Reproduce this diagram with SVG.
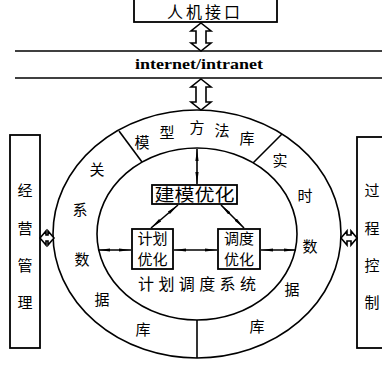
<svg xmlns="http://www.w3.org/2000/svg" width="382" height="371" viewBox="0 0 382 371">
<defs>
<style>
.ln{fill:none;stroke:#000;stroke-width:1.6}
.box{fill:#fff;stroke:#000;stroke-width:1.8}
.cn{font-family:"Noto Sans CJK SC","Noto Sans",sans-serif;fill:#000;text-anchor:middle}
.en{font-family:"Liberation Serif",serif;fill:#000;text-anchor:middle;font-weight:bold}
.ha{fill:#fff;stroke:#000;stroke-width:1.6;stroke-linejoin:miter}
</style>
<marker id="ah" viewBox="0 0 12 4" refX="12" refY="2" markerWidth="12" markerHeight="4" markerUnits="userSpaceOnUse" orient="auto-start-reverse">
<path d="M0,0.4 L12,2 L0,3.6 Z" fill="#000"/>
</marker>
</defs>
<rect width="382" height="371" fill="#fff"/>

<g id="hmi">
<rect class="box" x="134" y="-2" width="143" height="24"/>
<text class="cn" x="205" y="18" font-size="16" letter-spacing="3">人机接口</text>
</g>

<g id="network">
<line class="ln" x1="15" y1="51" x2="382" y2="51"/>
<line class="ln" x1="15" y1="78" x2="382" y2="78"/>
<text class="en" x="199" y="69" font-size="15" textLength="128" lengthAdjust="spacingAndGlyphs">internet/intranet</text>
</g>

<g id="rings">
<ellipse class="ln" cx="197" cy="234" rx="144" ry="124"/>
<ellipse class="ln" cx="197" cy="234" rx="100" ry="86"/>
<line class="ln" x1="119" y1="131" x2="142" y2="162"/>
<line class="ln" x1="282" y1="134" x2="253" y2="163"/>
<line class="ln" x1="197" y1="320" x2="197" y2="358"/>
</g>

<g id="model-lib" class="cn" font-size="15">
<text x="142" y="148">模</text>
<text x="167" y="138">型</text>
<text x="197" y="133">方</text>
<text x="222" y="136">法</text>
<text x="247" y="144">库</text>
</g>

<g id="rel-db" class="cn" font-size="15">
<text x="97" y="175">关</text>
<text x="80" y="215">系</text>
<text x="82" y="265">数</text>
<text x="102" y="305">据</text>
<text x="143" y="335">库</text>
</g>

<g id="rt-db" class="cn" font-size="15">
<text x="280" y="166">实</text>
<text x="305" y="201">时</text>
<text x="310" y="252">数</text>
<text x="292" y="295">据</text>
<text x="257" y="332">库</text>
</g>

<g id="modeling">
<rect class="box" x="152" y="185" width="85" height="19"/>
<text class="cn" x="194.5" y="201" font-size="17" textLength="80" lengthAdjust="spacingAndGlyphs">建模优化</text>
</g>

<g id="plan">
<rect class="box" x="132" y="229" width="41" height="40"/>
<text class="cn" x="152.5" y="244" font-size="15">计划</text>
<text class="cn" x="152.5" y="265" font-size="15">优化</text>
</g>

<g id="sched">
<rect class="box" x="218" y="229" width="42" height="40"/>
<text class="cn" x="239" y="244" font-size="15">调度</text>
<text class="cn" x="239" y="265" font-size="15">优化</text>
</g>

<g id="system-label">
<text class="cn" x="197" y="290" font-size="16" textLength="118" lengthAdjust="spacing">计划调度系统</text>
</g>

<g id="mgmt">
<rect class="box" x="10" y="135" width="30" height="213"/>
<g class="cn" font-size="15">
<text x="25" y="196">经</text>
<text x="25" y="234">营</text>
<text x="25" y="271">管</text>
<text x="25" y="308">理</text>
</g>
</g>

<g id="process">
<rect class="box" x="357" y="137" width="30" height="211"/>
<g class="cn" font-size="15">
<text x="372" y="196">过</text>
<text x="372" y="234">程</text>
<text x="372" y="271">控</text>
<text x="372" y="308">制</text>
</g>
</g>

<g id="connectors">
<path class="ha" d="M201,23 L211,31 L206,31 L206,43 L211,43 L201,51 L191,43 L196,43 L196,31 L191,31 Z"/>
<path class="ha" d="M201,79 L211,87 L206,87 L206,102 L211,102 L201,110 L191,102 L196,102 L196,87 L191,87 Z"/>
<path class="ha" d="M40,238 L46,231 L46,235 L48,235 L48,231 L54,238 L48,245 L48,241 L46,241 L46,245 Z"/>
<path class="ha" d="M341,238 L347,231 L347,235 L351,235 L351,231 L357,238 L351,245 L351,241 L347,241 L347,245 Z"/>
<line class="ln" stroke-width="1.2" x1="197" y1="149" x2="197" y2="184" marker-start="url(#ah)" marker-end="url(#ah)"/>
<line class="ln" stroke-width="1.2" x1="178" y1="205" x2="151" y2="228" marker-start="url(#ah)" marker-end="url(#ah)"/>
<line class="ln" stroke-width="1.2" x1="221" y1="205" x2="244" y2="228" marker-start="url(#ah)" marker-end="url(#ah)"/>
<line class="ln" stroke-width="1.2" x1="98" y1="250" x2="131" y2="250" marker-start="url(#ah)" marker-end="url(#ah)"/>
<line class="ln" stroke-width="1.2" x1="174" y1="250" x2="217" y2="250" marker-start="url(#ah)" marker-end="url(#ah)"/>
<line class="ln" stroke-width="1.2" x1="261" y1="250" x2="296" y2="250" marker-start="url(#ah)" marker-end="url(#ah)"/>
</g>
</svg>
